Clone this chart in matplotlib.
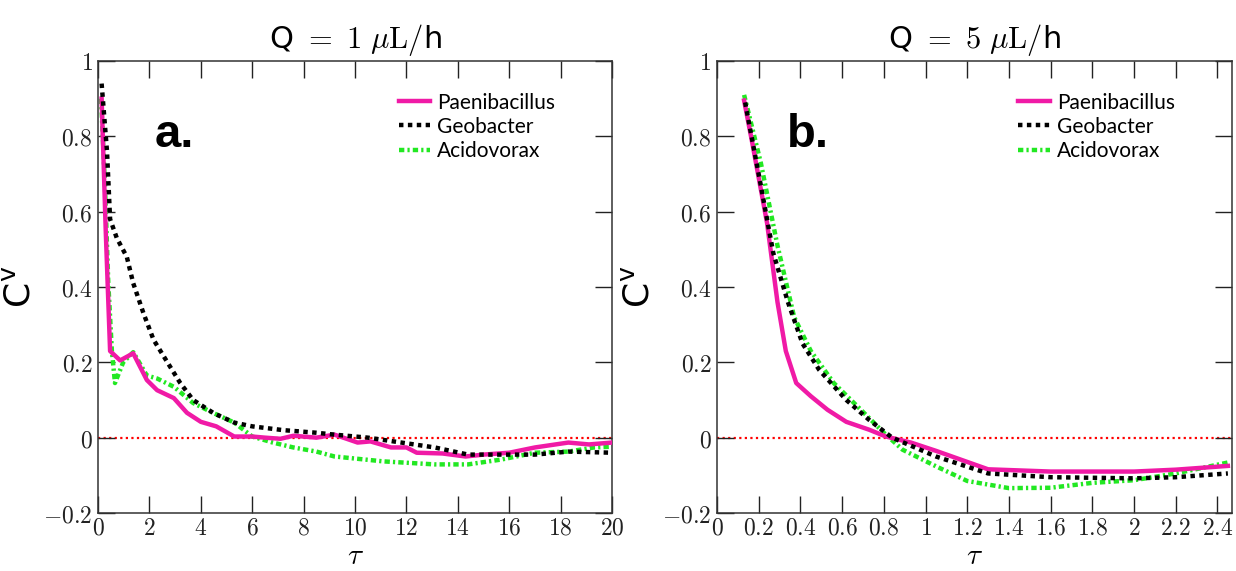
import matplotlib
matplotlib.use("Agg")
import matplotlib.pyplot as plt
from matplotlib.ticker import FuncFormatter

plt.rcParams['mathtext.fontset'] = 'cm'
plt.rcParams['font.family'] = ['DejaVu Sans']

# ---- panel a: Q = 1 uL/h ----
tau_pae_a = [0.14, 0.3, 0.47, 0.86, 1.37, 1.9, 2.3, 2.95, 3.46, 4.0, 4.6, 5.3, 6.0, 6.5, 7.1, 7.6, 8.5,
             9.2, 10.1, 10.6, 11.4, 12.0, 12.4, 13.4, 14.3, 15.0, 16.0, 17.0, 18.3, 19.1, 20.0]
cv_pae_a = [0.90, 0.55, 0.23, 0.205, 0.224, 0.153, 0.126, 0.105, 0.066, 0.042, 0.03, 0.003, 0.003, 0.0,
            -0.003, 0.005, 0.0, 0.008, -0.013, -0.01, -0.026, -0.026, -0.04, -0.042, -0.05, -0.045,
            -0.04, -0.026, -0.013, -0.018, -0.013]

tau_geo_a = [0.14, 0.35, 0.47, 0.73, 1.12, 1.37, 1.77, 2.16, 2.7, 3.2, 3.7, 4.5, 5.3, 6.0, 7.2, 8.5,
             9.2, 10.5, 11.8, 13.1, 14.4, 15.7, 17.0, 18.3, 20.0]
cv_geo_a = [0.94, 0.76, 0.58, 0.53, 0.48, 0.41, 0.33, 0.26, 0.20, 0.145, 0.10, 0.065, 0.04, 0.03, 0.02,
            0.013, 0.008, 0.0, -0.013, -0.026, -0.045, -0.045, -0.045, -0.037, -0.04]

tau_aci_a = [0.12, 0.27, 0.4, 0.54, 0.66, 0.98, 1.37, 1.9, 2.3, 2.95, 3.7, 4.5, 5.3, 6.0, 6.8, 7.6, 8.5,
             9.2, 11.1, 13.1, 14.4, 15.7, 17.0, 18.3, 19.3, 20.0]
cv_aci_a = [0.90, 0.67, 0.41, 0.23, 0.145, 0.20, 0.227, 0.165, 0.157, 0.135, 0.092, 0.065, 0.04, 0.003,
            -0.013, -0.026, -0.037, -0.05, -0.063, -0.071, -0.071, -0.058, -0.04, -0.037, -0.026, -0.024]

# ---- panel b: Q = 5 uL/h ----
tau_pae_b = [0.13, 0.17, 0.24, 0.29, 0.33, 0.38, 0.45, 0.53, 0.62, 0.73, 0.81, 0.93, 1.05, 1.3, 1.6,
             2.0, 2.2, 2.45]
cv_pae_b = [0.895, 0.78, 0.57, 0.36, 0.23, 0.145, 0.11, 0.074, 0.042, 0.021, 0.003, -0.013, -0.035,
            -0.084, -0.09, -0.09, -0.085, -0.075]

tau_geo_b = [0.135, 0.21, 0.27, 0.34, 0.41, 0.49, 0.62, 0.73, 0.84, 1.05, 1.3, 1.6, 2.0, 2.2, 2.45]
cv_geo_b = [0.89, 0.67, 0.49, 0.36, 0.25, 0.18, 0.10, 0.047, 0.0, -0.05, -0.095, -0.105, -0.108,
            -0.105, -0.095]

tau_aci_b = [0.13, 0.21, 0.29, 0.37, 0.45, 0.56, 0.69, 0.8, 0.89, 1.05, 1.2, 1.4, 1.6, 1.8, 2.0, 2.2, 2.45]
cv_aci_b = [0.91, 0.73, 0.51, 0.32, 0.23, 0.145, 0.074, 0.013, -0.032, -0.076, -0.115, -0.134, -0.133,
            -0.12, -0.113, -0.095, -0.066]

col_pae = '#f01aa6'
col_geo = 'black'
col_aci = '#22e822'

fig = plt.figure(figsize=(12.36, 5.71), dpi=100)
ax_a = fig.add_axes([0.0793, 0.1016, 0.4159, 0.7916])
ax_b = fig.add_axes([0.5801, 0.1016, 0.4167, 0.7916])

mfmt = FuncFormatter(lambda v, p: '$%g$' % round(v, 2))


def panel(ax, tp, cp, tg, cg, ta, ca, xmax, xstep, title, tag, legx):
    ax.axhline(0, color='red', lw=1.6, ls=(0, (1, 1.5)), zorder=1)
    ax.plot(tp, cp, color=col_pae, lw=3.2, solid_joinstyle='round', label='Paenibacillus', zorder=3)
    ax.plot(tg, cg, color=col_geo, lw=3.2, ls=(0, (1, 1)), dash_capstyle='butt',
            label='Geobacter', zorder=4)
    ax.plot(ta, ca, color=col_aci, lw=3.2, ls=(0, (1.2, 0.7, 0.5, 0.7)), dash_capstyle='butt',
            label='Acidovorax', zorder=2)
    ax.set_xlim(0, xmax)
    ax.set_ylim(-0.2, 1.0)
    ax.set_xticks([i * xstep for i in range(int(round(xmax / xstep)) + 1)])
    ax.set_yticks([-0.2, 0, 0.2, 0.4, 0.6, 0.8, 1.0])
    ax.xaxis.set_major_formatter(mfmt)
    ax.yaxis.set_major_formatter(mfmt)
    ax.tick_params(direction='in', length=12, width=1, top=True, right=True,
                   labelsize=17, pad=4, colors='#222222')
    ax.tick_params(axis='x', pad=2)
    for s in ax.spines.values():
        s.set_linewidth(1.1)
        s.set_color('#333333')
    ax.set_title(title, fontsize=22, pad=9)
    ax.set_xlabel(r'$\tau$', fontsize=21, va='bottom')
    ax.xaxis.set_label_coords(0.5, -0.126)
    ax.set_ylabel(r'C$^{\mathregular{v}}$', fontsize=26, labelpad=4)
    ax.text(legx, 0.81, tag, transform=ax.transAxes, fontsize=34, fontweight='bold',
            family='Liberation Sans')
    ax.legend(loc='upper left', bbox_to_anchor=(0.585, 0.93), frameon=False,
              prop={'family': 'Lato', 'size': 15},
              handlelength=1.5, handletextpad=0.35, labelspacing=0.2, borderpad=0, borderaxespad=0)


panel(ax_a, tau_pae_a, cv_pae_a, tau_geo_a, cv_geo_a, tau_aci_a, cv_aci_a, 20, 2,
      r'Q $=\ 1\ \mathrm{\mu L}/$h', 'a.', 0.11)
panel(ax_b, tau_pae_b, cv_pae_b, tau_geo_b, cv_geo_b, tau_aci_b, cv_aci_b, 2.47, 0.2,
      r'Q $=\ 5\ \mathrm{\mu L}/$h', 'b.', 0.136)

fig.savefig('out.png', dpi=100)
